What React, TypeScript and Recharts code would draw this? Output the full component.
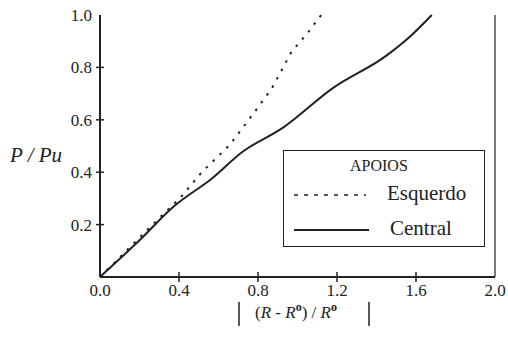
import { LineChart, Line, XAxis, YAxis } from 'recharts';

// |(R - Ro) / Ro| vs P / Pu
const esquerdoR = [0, 0.1, 0.2, 0.3, 0.41, 0.515, 0.657, 0.783, 0.87, 0.97, 1.05, 1.12];
const esquerdoP = [0, 0.075, 0.15, 0.225, 0.305, 0.4, 0.504, 0.63, 0.72, 0.86, 0.93, 1.0];
const centralR = [0, 0.2, 0.37, 0.57, 0.72, 0.925, 1.177, 1.45, 1.58, 1.68];
const centralP = [0, 0.14, 0.267, 0.378, 0.477, 0.569, 0.72, 0.845, 0.925, 1.0];
const xTicks = [0, 0.4, 0.8, 1.2, 1.6, 2.0];
const yTicks = [0.2, 0.4, 0.6, 0.8, 1.0];

const esquerdo = esquerdoR.map((r, i) => ({ r, p: esquerdoP[i] }));
const central = centralR.map((r, i) => ({ r, p: centralP[i] }));

const ink = '#222';
const serif = "'Liberation Serif', 'DejaVu Serif', serif";

const YTick = ({ x, y, payload }: any) => (
  <g>
    {payload.value < 1 && <line x1={x - 4} x2={x + 4} y1={y} y2={y} stroke={ink} strokeWidth={1.5} />}
    <text x={x - 8} y={y + 6} textAnchor="end" style={{ fontFamily: serif, fontSize: 17 }} fill={ink}>
      {payload.value.toFixed(1)}
    </text>
  </g>
);

const XTick = ({ x, y, payload }: any) => (
  <g>
    {payload.value > 0 && payload.value < 2 && (
      <line x1={x} x2={x} y1={y - 5} y2={y + 5} stroke={ink} strokeWidth={1.5} />
    )}
    <text x={x} y={y + 19} textAnchor="middle" style={{ fontFamily: serif, fontSize: 17 }} fill={ink}>
      {payload.value.toFixed(1)}
    </text>
  </g>
);

const YTitle = () => (
  <text x={10} y={162} style={{ fontFamily: serif, fontSize: 21, fontStyle: 'italic' }} fill={ink}>
    P / Pu
  </text>
);

const XTitle = () => (
  <g fill={ink}>
    <line x1={239} x2={239} y1={302} y2={326} stroke={ink} strokeWidth={1.5} />
    <text x={255} y={318} style={{ fontFamily: serif, fontSize: 17 }}>
      (<tspan fontStyle="italic">R</tspan> - <tspan fontStyle="italic">R</tspan>
      <tspan dy={-7} fontSize={12} fontWeight="bold">o</tspan>
      <tspan dy={7}>)  /  </tspan>
      <tspan fontStyle="italic">R</tspan>
      <tspan dy={-7} fontSize={12} fontWeight="bold">o</tspan>
    </text>
    <line x1={369} x2={369} y1={302} y2={326} stroke={ink} strokeWidth={1.5} />
  </g>
);

export default function App() {
  return (
    <div style={{ position: 'absolute', left: 0, top: 0, width: 508, height: 337, background: '#fff' }}>
      <LineChart width={508} height={337} margin={{ top: 15, right: 12, bottom: 30, left: 50 }}>
        <XAxis
          xAxisId="b"
          dataKey="r"
          type="number"
          domain={[0, 2]}
          ticks={xTicks}
          tick={<XTick />}
          tickLine={false}
          tickSize={0}
          tickMargin={0}
          height={30}
          axisLine={{ stroke: ink, strokeWidth: 2 }}
          label={<XTitle />}
        />
        <XAxis
          xAxisId="t"
          orientation="top"
          dataKey="r"
          type="number"
          domain={[0, 2]}
          tick={false}
          tickLine={false}
          height={0}
          axisLine={{ stroke: ink, strokeWidth: 1.2 }}
        />
        <YAxis
          yAxisId="l"
          type="number"
          domain={[0, 1]}
          ticks={yTicks}
          tick={<YTick />}
          tickLine={false}
          tickSize={0}
          tickMargin={0}
          width={50}
          axisLine={{ stroke: ink, strokeWidth: 2 }}
          label={<YTitle />}
        />
        <YAxis
          yAxisId="r"
          orientation="right"
          type="number"
          domain={[0, 1]}
          tick={false}
          tickLine={false}
          width={1}
          axisLine={{ stroke: ink, strokeWidth: 1.2 }}
        />
        <Line
          xAxisId="b"
          yAxisId="l"
          data={esquerdo}
          dataKey="p"
          type="linear"
          stroke={ink}
          strokeWidth={2}
          strokeDasharray="2.5 7"
          dot={false}
          isAnimationActive={false}
        />
        <Line
          xAxisId="b"
          yAxisId="l"
          data={central}
          dataKey="p"
          type="monotone"
          stroke={ink}
          strokeWidth={2}
          dot={false}
          isAnimationActive={false}
        />
      </LineChart>
      <div
        style={{
          position: 'absolute',
          left: 283,
          top: 150,
          width: 200,
          height: 95,
          border: `1.5px solid ${ink}`,
          fontFamily: serif,
          color: ink,
        }}
      >
        <div style={{ position: 'absolute', left: 66, top: 6, fontSize: 16 }}>APOIOS</div>
        <svg style={{ position: 'absolute', left: 0, top: 0 }} width={200} height={95}>
          <line x1={10} x2={82} y1={44} y2={44} stroke={ink} strokeWidth={1.5} strokeDasharray="4 6" />
          <line x1={10} x2={85} y1={79} y2={79} stroke={ink} strokeWidth={1.8} />
        </svg>
        <div style={{ position: 'absolute', left: 103, top: 30, fontSize: 21 }}>Esquerdo</div>
        <div style={{ position: 'absolute', left: 106, top: 65, fontSize: 21 }}>Central</div>
      </div>
    </div>
  );
}
